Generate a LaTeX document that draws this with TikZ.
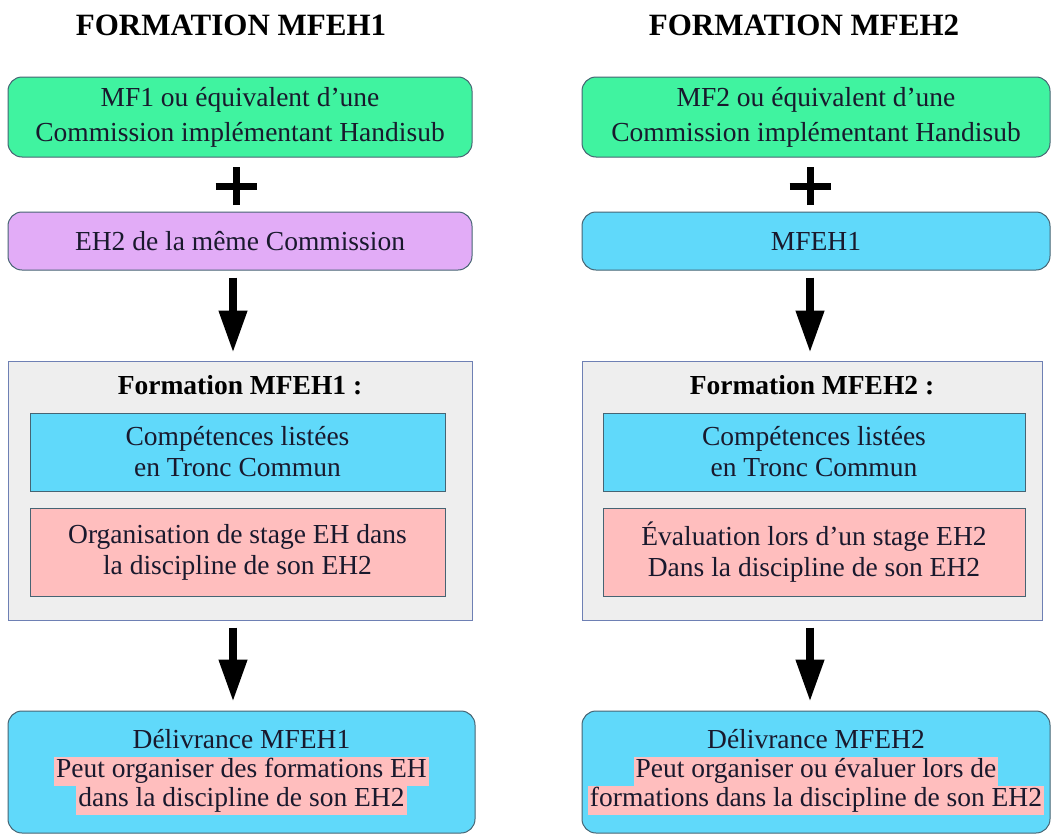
\documentclass[tikz,border=0pt]{standalone}
\usepackage{fontspec}
\setmainfont{Liberation Serif}
\usetikzlibrary{arrows.meta,positioning}
\definecolor{mintbox}{RGB}{64,243,160}
\definecolor{lilacbox}{RGB}{226,172,247}
\definecolor{skybox}{RGB}{96,217,250}
\definecolor{rosebox}{RGB}{255,190,190}
\definecolor{panelgray}{RGB}{238,238,238}
\definecolor{panelline}{RGB}{110,128,180}
\definecolor{boxline}{RGB}{70,100,115}
\definecolor{inkdark}{RGB}{25,25,45}
\newcommand{\pinkmark}[1]{{\setlength{\fboxsep}{0pt}\colorbox{rosebox}{\strut\kern2pt #1\kern2pt}}}

\begin{document}
\begin{tikzpicture}[x=1pt,y=-1pt,
  every node/.style={font=\fontsize{27.5}{31}\selectfont, text=inkdark},
  roundbox/.style={draw=boxline, line width=1pt, rounded corners=14pt, minimum width=464pt, align=center, inner sep=0pt},
  innerbox/.style={draw=boxline, line width=1pt, minimum width=415pt, align=center, inner sep=0pt},
  panel/.style={draw=panelline, fill=panelgray, line width=1pt, minimum width=464pt, minimum height=259pt, inner sep=0pt},
  headline/.style={font=\fontsize{31}{34}\selectfont\bfseries, text=black},
  subhead/.style={font=\fontsize{27.5}{31}\selectfont\bfseries, text=black},
  downarrow/.style={-{Triangle[length=42pt,width=27pt]}, line width=7.5pt, black},
  plusmark/.style={line width=7pt, black}]
\fill[white] (0,0) rectangle (1052,835);
\useasboundingbox (0,0) rectangle (1052,835);

\node (titleL) at (231,25) [headline] {FORMATION MFEH1};
\node (titleR) at (804,25) [headline] {FORMATION MFEH2};

\node (mfL) at (240,117) [roundbox, fill=mintbox, minimum height=80pt, font=\fontsize{27.5}{35}\selectfont] {MF1 ou équivalent d’une\\Commission implémentant Handisub};
\node (mfR) at (816,117) [roundbox, fill=mintbox, minimum width=468pt, minimum height=80pt, font=\fontsize{27.5}{35}\selectfont] {MF2 ou équivalent d’une\\Commission implémentant Handisub};

\coordinate (plusL) at (236,186);
\coordinate (plusR) at (810,186);
\foreach \p in {plusL,plusR} {
\draw[plusmark] ([xshift=-20.5pt]\p) -- ([xshift=20.5pt]\p);
\draw[plusmark] ([yshift=-19pt]\p) -- ([yshift=19pt]\p);
}

\node (ehL) at (240,241) [roundbox, fill=lilacbox, minimum height=58pt] {EH2 de la même Commission};
\node (ehR) at (816,241) [roundbox, fill=skybox, minimum width=468pt, minimum height=58pt] {MFEH1};

\node (panelL) at (240,490.5) [panel] {};
\node (panelR) at (812,490.5) [panel, minimum width=460pt] {};

\node (headL) at (240,385) [subhead] {Formation MFEH1~:};
\node (headR) at (812,385) [subhead] {Formation MFEH2~:};

\node (compL) at (237.5,452) [innerbox, fill=skybox, minimum height=78pt] {Compétences listées\\en Tronc Commun};
\node (compR) at (814,452) [innerbox, fill=skybox, minimum width=422pt, minimum height=78pt] {Compétences listées\\en Tronc Commun};
\node (stageL) at (237.5,552) [innerbox, fill=rosebox, minimum height=88pt] {Organisation de stage EH dans\\la discipline de son EH2};
\node (stageR) at (814,552) [innerbox, fill=rosebox, minimum width=422pt, minimum height=88pt] {Évaluation lors d’un stage EH2\\Dans la discipline de son EH2};

\node (issueL) at (241.5,772) [roundbox, fill=skybox, minimum width=467pt, minimum height=122pt, font=\fontsize{27.5}{29}\selectfont] {Délivrance MFEH1\\\pinkmark{Peut organiser des formations EH}\\\pinkmark{dans la discipline de son EH2}};
\node (issueR) at (816,772) [roundbox, fill=skybox, minimum width=468pt, minimum height=122pt, font=\fontsize{27.5}{29}\selectfont] {Délivrance MFEH2\\\pinkmark{Peut organiser ou évaluer lors de}\\\pinkmark{formations dans la discipline de son EH2}};

\draw[downarrow, shorten <=7pt, shorten >=8pt] ([xshift=-7pt]ehL.south) -- ([xshift=-7pt]ehL.south |- panelL.north);
\draw[downarrow, shorten <=7pt, shorten >=8pt] ([xshift=-6pt]ehR.south) -- ([xshift=-6pt]ehR.south |- panelR.north);
\draw[downarrow, shorten <=7pt, shorten >=9pt] ([xshift=-7pt]ehL.south |- panelL.south) -- ([xshift=-7pt]ehL.south |- issueL.north);
\draw[downarrow, shorten <=7pt, shorten >=9pt] ([xshift=-6pt]ehR.south |- panelR.south) -- ([xshift=-6pt]ehR.south |- issueR.north);
\end{tikzpicture}
\end{document}
